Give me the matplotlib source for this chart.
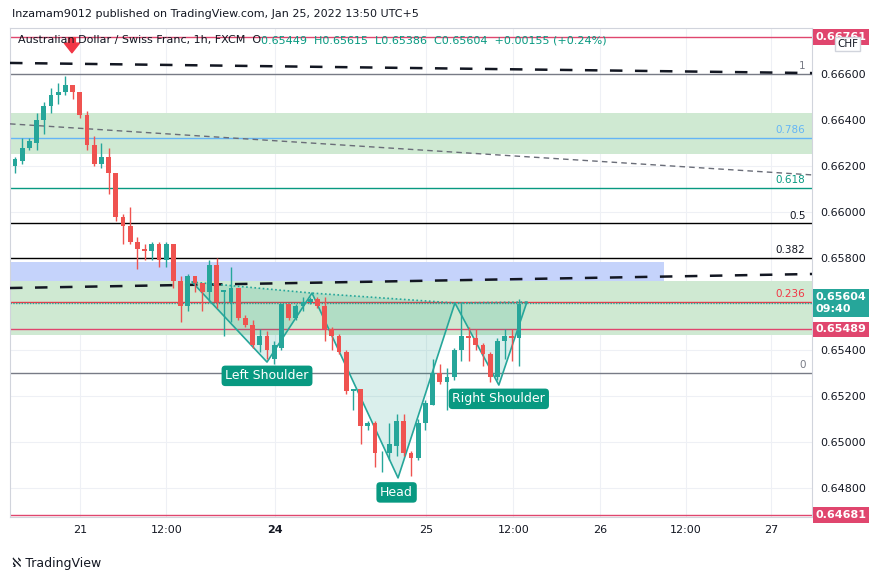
import matplotlib
matplotlib.use("Agg")
import matplotlib.pyplot as plt
from matplotlib.patches import Rectangle, Polygon

opens  = [.6620,.6622,.6628,.6630,.6640,.6646,.6651,.6652,.6655,.6652,.6642,.6629,.6621,.6624,.6617,.6598,.6594,.6587,.6584,.6583,
          .6586,.6579,.6586,.6570,.6559,.6572,.6569,.6565,.6577,.6565,.6561,.6567,.6554,.6551,.6542,.6546,.6536,.6541,.6560,.6554,
          .6559,.6561,.6562,.6559,.6549,.6546,.6539,.6522,.6523,.6507,.6508,.6495,.6495,.6498,.6509,.6495,.6493,.6508,.6516,.6530,
          .6526,.6528,.6540,.6546,.6545,.6542,.6538,.6528,.6544,.6546,.6545]
highs  = [.6624,.6632,.6632,.6643,.6648,.6654,.6656,.6659,.6655,.6652,.6644,.6633,.6630,.6628,.6617,.6599,.6602,.6589,.6586,.6587,
          .6587,.6587,.6586,.6572,.6573,.6572,.6569,.6579,.6580,.6566,.6576,.6567,.6555,.6553,.6549,.6548,.6544,.6560,.6560,.6560,
          .6563,.6563,.6563,.6563,.6550,.6547,.6540,.6523,.6523,.6509,.6509,.6496,.6508,.6512,.6512,.6496,.6510,.6518,.6536,.6534,
          .6532,.6541,.6561,.6550,.6549,.6543,.6539,.6545,.6549,.6549,.6562]
lows   = [.6617,.6621,.6627,.6627,.6634,.6643,.6647,.6651,.6649,.6641,.6627,.6620,.6619,.6608,.6596,.6586,.6586,.6575,.6579,.6579,
          .6576,.6576,.6567,.6552,.6557,.6565,.6557,.6561,.6558,.6546,.6552,.6553,.6550,.6541,.6539,.6536,.6534,.6540,.6553,.6553,
          .6557,.6560,.6558,.6544,.6540,.6538,.6521,.6514,.6499,.6505,.6489,.6487,.6492,.6494,.6494,.6485,.6492,.6505,.6516,.6525,
          .6514,.6527,.6535,.6535,.6540,.6533,.6526,.6527,.6536,.6535,.6533]
closes = [.6623,.6628,.6631,.6640,.6646,.6651,.6652,.6655,.6652,.6642,.6629,.6621,.6624,.6617,.6598,.6594,.6587,.6584,.6583,.6586,
          .6579,.6586,.6570,.6559,.6572,.6569,.6565,.6577,.6561,.6566,.6567,.6554,.6551,.6542,.6546,.6540,.6542,.6560,.6554,.6559,
          .6561,.6562,.6559,.6549,.6546,.6539,.6522,.6523,.6507,.6508,.6495,.6495,.6499,.6509,.6495,.6493,.6508,.6517,.6530,.6526,
          .6528,.6540,.6546,.6545,.6542,.6538,.6528,.6544,.6546,.6545,.6560]

xtick_pos = [9.0, 21.0, 36.1, 57.1, 69.2, 81.25, 93.2, 105.0]
xtick_labels = ["21", "12:00", "24", "25", "12:00", "26", "12:00", "27"]
ytick_vals = [0.648, 0.650, 0.652, 0.654, 0.656, 0.658, 0.660, 0.662, 0.664, 0.666]

fib_levels = [("1", 0.66600, "#787b86"), ("0.786", 0.66322, "#64b5f6"), ("0.618", 0.66103, "#089981"),
              ("0.5", 0.65950, "#000000"), ("0.382", 0.65800, "#000000"), ("0.236", 0.65610, "#f23645"),
              ("0", 0.65300, "#787b86")]

hs_x = [24.6, 35.0, 41.25, 53.2, 61.1, 67.2, 71.1]
hs_y = [0.65695, 0.65347, 0.65647, 0.64843, 0.65604, 0.65247, 0.65608]

GREEN, RED = "#26a69a", "#ef5350"
XMIN, XMAX = -0.7, 110.7
YMIN, YMAX = 0.64673, 0.66800

fig = plt.figure(figsize=(8.88, 5.81), dpi=100)
ax = fig.add_axes([10/888, 1-517/581, 802/888, 489/581])
ax.set_xlim(XMIN, XMAX)
ax.set_ylim(YMIN, YMAX)

for x in xtick_pos:
    ax.axvline(x, color="#eef0f5", lw=0.8, zorder=0)
for y in ytick_vals:
    ax.axhline(y, color="#eef0f5", lw=0.8, zorder=0)

ax.axhspan(0.66250, 0.66430, color="#cfe9d2", zorder=1, lw=0)
ax.axhspan(0.65465, 0.65700, color="#cfe9d2", zorder=1, lw=0)
ax.add_patch(Rectangle((XMIN, 0.65700), 90.2 - XMIN, 0.00082, color="#c5d3fb", zorder=1, lw=0))

for lab, v, c in fib_levels:
    ax.axhline(v, color=c, lw=1.0, zorder=2)
    ax.text(109.8, v + 0.00012, lab, color=c if c != "#000000" else "#131722",
            fontsize=7.5, ha="right", va="bottom", zorder=5)
ax.axhline(0.66761, color="#e0466e", lw=1.0, zorder=2)
ax.axhline(0.65489, color="#e0466e", lw=1.0, zorder=2)
ax.axhline(0.64681, color="#e0466e", lw=1.0, zorder=2)
ax.axhline(0.65604, color=GREEN, lw=1.0, ls=(0, (1, 1)), zorder=2)

ax.plot([XMIN, XMAX], [0.66648, 0.66604], color="#131722", lw=1.8, ls=(0, (5, 5)), zorder=3)
ax.plot([XMIN, XMAX], [0.66383, 0.66161], color="#6a6d78", lw=1.0, ls=(0, (4, 3)), zorder=3)
ax.plot([XMIN, XMAX], [0.65669, 0.65730], color="#131722", lw=1.8, ls=(0, (5, 5)), zorder=3)

for a, b, c in [(0, 1, 2), (2, 3, 4), (4, 5, 6)]:
    ax.add_patch(Polygon([(hs_x[a], hs_y[a]), (hs_x[b], hs_y[b]), (hs_x[c], hs_y[c])],
                         closed=True, facecolor=(8/255, 153/255, 129/255, 0.15), edgecolor="none", zorder=2))
ax.plot(hs_x, hs_y, color=GREEN, lw=1.2, zorder=4)
ax.plot([hs_x[0], hs_x[2], hs_x[4], hs_x[6]], [hs_y[0], hs_y[2], hs_y[4], hs_y[6]],
        color=GREEN, lw=1.2, ls=(0, (1, 1.5)), zorder=4)

for i, (o, h, l, c) in enumerate(zip(opens, highs, lows, closes)):
    col = GREEN if c >= o else RED
    ax.vlines(i, l, h, color=col, lw=1, zorder=5)
    lo, hi = min(o, c), max(o, c)
    ax.add_patch(Rectangle((i - 0.33, lo), 0.66, max(hi - lo, 0.00003), color=col, zorder=6, lw=0))

box = dict(boxstyle="round,pad=0.3", fc="#089981", ec="none")
ax.text(35.0, 0.65287, "Left Shoulder", color="white", fontsize=9, ha="center", va="center", bbox=box, zorder=7)
ax.text(53.0, 0.64780, "Head", color="white", fontsize=9, ha="center", va="center", bbox=box, zorder=7)
ax.text(67.2, 0.65187, "Right Shoulder", color="white", fontsize=9, ha="center", va="center", bbox=box, zorder=7)

ax.annotate("", xy=(7.9, 0.66680), xytext=(7.9, 0.66770),
            arrowprops=dict(arrowstyle="simple,head_width=1.1,head_length=0.7,tail_width=0.5", color="#f23645"), zorder=8)

t1 = ax.text(0.01, 0.985, "Australian Dollar / Swiss Franc, 1h, FXCM  O", transform=ax.transAxes,
             fontsize=8, color="#131722", va="top", zorder=9)
fig.canvas.draw()
bb = t1.get_window_extent().transformed(ax.transAxes.inverted())
ax.text(bb.x1, 0.985, "0.65449  H0.65615  L0.65386  C0.65604  +0.00155 (+0.24%)", transform=ax.transAxes,
        fontsize=8, color="#089981", va="top", zorder=9)

ax.set_xticks(xtick_pos)
ax.set_xticklabels(xtick_labels, fontsize=8, color="#131722")
ax.get_xticklabels()[2].set_fontweight("bold")
ax.yaxis.tick_right()
ax.set_yticks(ytick_vals)
ax.set_yticklabels([("" if abs(v - 0.656) < 1e-9 else f"{v:.5f}") for v in ytick_vals], fontsize=8, color="#131722")
ax.tick_params(length=0, pad=6)
for s in ax.spines.values():
    s.set_color("#d1d4dc")
    s.set_linewidth(0.8)

def plabel(v, txt, fc):
    ax.text(XMAX + 0.5, v, txt, fontsize=8, color="white", fontweight="bold", ha="left", va="center",
            bbox=dict(boxstyle="square,pad=0.25", fc=fc, ec="none"), clip_on=False, zorder=9)
plabel(0.66761, "0.66761", "#e0466e")
plabel(0.65604, "0.65604\n09:40", "#26a69a")
plabel(0.65489, "0.65489", "#e0466e")
plabel(0.64681, "0.64681", "#e0466e")
ax.text(XMAX + 3.5, 0.66730, "CHF", fontsize=7.5, color="#131722", ha="left", va="center",
        bbox=dict(boxstyle="square,pad=0.2", fc="white", ec="#d1d4dc"), clip_on=False, zorder=10)

fig.text(12/888, 1-14/581, "Inzamam9012 published on TradingView.com, Jan 25, 2022 13:50 UTC+5",
         fontsize=8, color="#131722", va="center")
fig.text(12/888, 1-563/581, "\u2135 TradingView", fontsize=9, color="#131722", va="center")

fig.savefig("out.png", dpi=100)
